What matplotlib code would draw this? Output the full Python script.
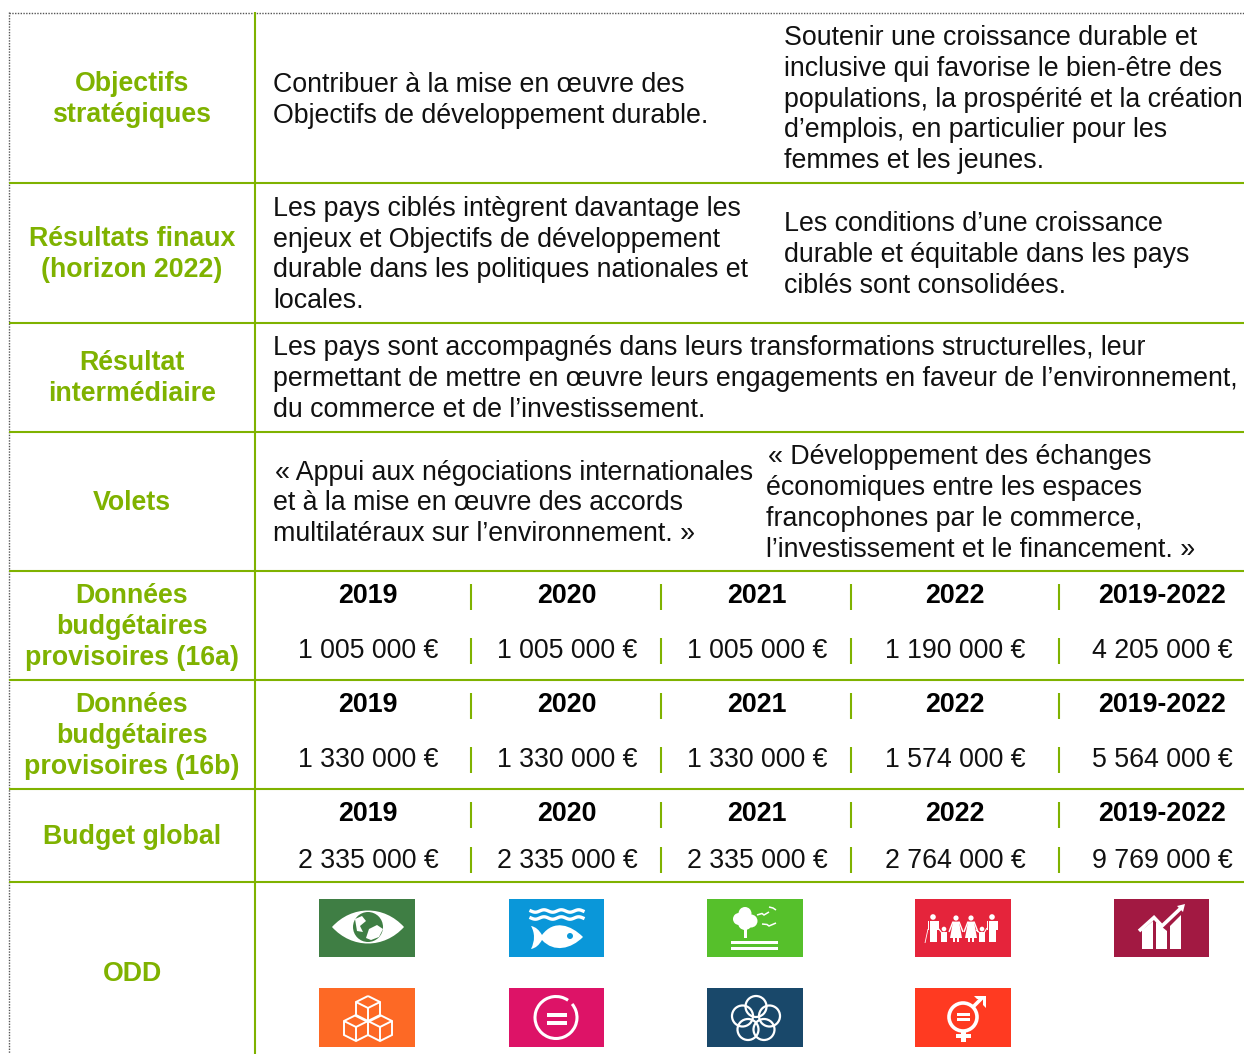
import numpy as np
import matplotlib
matplotlib.use("Agg")
import matplotlib.pyplot as plt
from matplotlib.patches import Rectangle, Circle, Arc, PathPatch, Polygon
from matplotlib.path import Path

plt.rcParams['font.family'] = ['Liberation Sans', 'DejaVu Sans']

GREEN = "#7fb200"
FS = 19.25

row_lines = [183, 323, 432, 571, 680, 789, 882]

# row headers: (lines, baseline of each line)
headers = [
    (["Objectifs", "stratégiques"], [91, 122]),
    (["Résultats finaux", "(horizon 2022)"], [246, 277]),
    (["Résultat", "intermédiaire"], [370, 401]),
    (["Volets"], [510]),
    (["Données", "budgétaires", "provisoires (16a)"], [603, 634, 665]),
    (["Données", "budgétaires", "provisoires (16b)"], [712, 743, 774]),
    (["Budget global"], [844]),
    (["ODD"], [981]),
]

# body text: (x, first baseline, line spacing, lines)
paragraphs = [
    (273, 92, 31, ["Contribuer à la mise en œuvre des",
                   "Objectifs de développement durable."]),
    (784, 45, 30.8, ["Soutenir une croissance durable et",
                     "inclusive qui favorise le bien-être des",
                     "populations, la prospérité et la création",
                     "d’emplois, en particulier pour les",
                     "femmes et les jeunes."]),
    (273, 216, 30.7, ["Les pays ciblés intègrent davantage les",
                      "enjeux et Objectifs de développement",
                      "durable dans les politiques nationales et",
                      "locales."]),
    (784, 231, 31, ["Les conditions d’une croissance",
                    "durable et équitable dans les pays",
                    "ciblés sont consolidées."]),
    (273, 355, 31, ["Les pays sont accompagnés dans leurs transformations structurelles, leur",
                    "permettant de mettre en œuvre leurs engagements en faveur de l’environnement,",
                    "du commerce et de l’investissement."]),
    (275, 480, 30.5, ["« Appui aux négociations internationales"]),
    (273, 510.5, 30.5, ["et à la mise en œuvre des accords",
                        "multilatéraux sur l’environnement. »"]),
    (768, 464, 31, ["« Développement des échanges"]),
    (766, 495, 31, ["économiques entre les espaces",
                    "francophones par le commerce,",
                    "l’investissement et le financement. »"]),
]

years = ["2019", "2020", "2021", "2022", "2019-2022"]
budget_16a = [1005000, 1005000, 1005000, 1190000, 4205000]
budget_16b = [1330000, 1330000, 1330000, 1574000, 5564000]
budget_global = [2335000, 2335000, 2335000, 2764000, 9769000]

col_x = [368, 567, 757, 955, 1162]
sep_x = [471, 661, 851, 1059]

# budget row: values, year baseline, value baseline, year sep top, value sep top
budget_rows = [
    (budget_16a, 603, 658, 584, 638),
    (budget_16b, 712, 767, 693, 747),
    (budget_global, 821, 868, 802, 847),
]

odd_colors = ["#3f7e44", "#0a97d9", "#56c02b", "#e5243b", "#a21942",
              "#fd6925", "#dd1367", "#19486a", "#ff3a21"]
odd_x = [(319, 415), (509, 604), (707, 803), (915, 1011), (1114, 1209),
         (319, 415), (509, 604), (707, 803), (915, 1011)]
odd_y = [(899, 957)] * 5 + [(988, 1047)] * 4


def money(v):
    return f"{v:,}".replace(",", " ") + " €"


fig = plt.figure(figsize=(12.44, 10.54), dpi=100)
ax = fig.add_axes([0, 0, 1, 1])
ax.set_xlim(0, 1244)
ax.set_ylim(1054, 0)
ax.axis("off")

# grid
ax.plot([9, 1244], [12.5, 12.5], color="#555555", lw=1.0, ls=(0, (1, 1)))
ax.plot([8.5, 8.5], [12, 1054], color="#555555", lw=1.0, ls=(0, (1, 1)))
for y in row_lines:
    ax.plot([9, 1244], [y, y], color=GREEN, lw=1.5, solid_capstyle="butt")
ax.plot([255, 255], [12, 1054], color=GREEN, lw=1.5, solid_capstyle="butt")

# texts
for lines, ys in headers:
    for s, y in zip(lines, ys):
        ax.text(132, y, s, color=GREEN, fontsize=FS, fontweight="bold", ha="center", va="baseline")

for x, y0, dy, lines in paragraphs:
    for i, s in enumerate(lines):
        ax.text(x, y0 + i * dy, s, color="#111111", fontsize=FS, ha="left", va="baseline")

for values, y_year, y_val, s1, s2 in budget_rows:
    for x, yr, v in zip(col_x, years, values):
        ax.text(x, y_year, yr, color="black", fontsize=FS, fontweight="bold", ha="center", va="baseline")
        ax.text(x + 0.5, y_val, money(v), color="#111111", fontsize=FS, ha="center", va="baseline")
    for x in sep_x:
        ax.plot([x, x], [s1, s1 + 26], color=GREEN, lw=1.5, solid_capstyle="butt")
        ax.plot([x, x], [s2, s2 + 26], color=GREEN, lw=1.5, solid_capstyle="butt")


# icons, drawn in pixels from the top left corner of each square
def poly(x0, y0, pts, c="white"):
    ax.add_patch(Polygon([(x0 + a, y0 + b) for a, b in pts], closed=True, fc=c, ec="none"))


def box(x0, y0, a, b, w, h, c="white"):
    ax.add_patch(Rectangle((x0 + a, y0 + b), w, h, fc=c, ec="none"))


def disc(x0, y0, a, b, r, c="white"):
    ax.add_patch(Circle((x0 + a, y0 + b), r, fc=c, ec="none"))


def ring(x0, y0, a, b, r, lw=1.6):
    ax.add_patch(Circle((x0 + a, y0 + b), r, fc="none", ec="white", lw=lw))


def curve(x0, y0, verts, codes, c="white"):
    ax.add_patch(PathPatch(Path([(x0 + a, y0 + b) for a, b in verts], codes), fc=c, ec="none"))


def seg(x0, y0, pts, lw=1.2):
    ax.plot([x0 + p[0] for p in pts], [y0 + p[1] for p in pts], color="white", lw=lw,
            solid_joinstyle="miter", solid_capstyle="butt")


C4 = Path.CURVE4
M = Path.MOVETO


def icon_eye(x, y, bg):
    curve(x, y, [(13, 28), (33, 6), (65, 6), (85, 28), (65, 50), (33, 50), (13, 28)],
          [M, C4, C4, C4, C4, C4, C4])
    disc(x, y, 49, 28, 15, bg)
    poly(x, y, [(36, 20), (43, 17), (47, 22), (41, 27), (44, 33), (38, 32)])
    poly(x, y, [(50, 30), (58, 26), (64, 30), (60, 38), (52, 41), (47, 39)])


def icon_fish(x, y, bg):
    for dy in (12, 19):
        t = np.linspace(0, 1, 60)
        ax.plot(x + 22 + 52 * t, y + dy + 1.2 * np.sin(t * 3 * 2 * np.pi), color="white", lw=2.4)
    curve(x, y, [(33, 36), (45, 20), (62, 26), (74, 38), (62, 50), (45, 54), (33, 41),
                 (30, 46), (27, 49), (22, 50), (26, 42), (26, 34), (22, 27), (27, 28), (30, 31), (33, 36)],
          [M, C4, C4, C4, C4, C4, C4, C4, C4, C4, C4, C4, C4, C4, C4, C4])
    disc(x, y, 61, 37, 3, bg)


def icon_land(x, y, bg):
    for a, b, r in [(38, 14.5, 6.5), (32, 20, 6), (44, 22, 6.5), (38, 24, 7)]:
        disc(x, y, a, b, r)
    box(x, y, 36.5, 30, 3.5, 9)
    box(x, y, 24, 42, 47, 3.2)
    box(x, y, 24, 47.5, 47, 3.2)
    seg(x, y, [(50, 16), (55, 14.5), (57, 16), (62, 13)], 1.1)
    seg(x, y, [(62, 8), (66, 9), (69, 11)], 1.1)
    seg(x, y, [(55, 25), (60, 25.5), (62, 27), (69, 24)], 1.1)


def icon_man(x, y, c, hy, r, bot, w):
    disc(x, y, c, hy, r)
    mid = hy + r + 11
    box(x, y, c - w / 2, hy + r + 1, w, mid - hy - r - 1)
    box(x, y, c - w / 2 - 2, hy + r + 1, 1.5, mid - hy - r - 2)
    box(x, y, c + w / 2 + 0.5, hy + r + 1, 1.5, mid - hy - r - 2)
    box(x, y, c - w / 2, mid, w / 2 - 0.4, bot - mid)
    box(x, y, c + 0.4, mid, w / 2 - 0.4, bot - mid)


def icon_woman(x, y, c, hy, r, bot):
    disc(x, y, c, hy, r)
    poly(x, y, [(c - 3, hy + r + 1), (c + 3, hy + r + 1), (c + 6, hy + 20), (c - 6, hy + 20)])
    box(x, y, c - 3, hy + 20, 2.4, bot - hy - 20)
    box(x, y, c + 0.6, hy + 20, 2.4, bot - hy - 20)
    seg(x, y, [(c - 3, hy + r + 1), (c - 7, hy + 14)], 1.0)
    seg(x, y, [(c + 3, hy + r + 1), (c + 7, hy + 14)], 1.0)


def icon_family(x, y, bg):
    icon_man(x, y, 18, 18, 2.8, 43, 7)
    icon_man(x, y, 77, 18, 2.8, 43, 7)
    icon_woman(x, y, 41, 19, 2.6, 43)
    icon_woman(x, y, 56, 19, 2.6, 43)
    for c in (29, 67):
        disc(x, y, c, 30, 2.3)
        box(x, y, c - 3, 33, 6, 6)
        box(x, y, c - 2.6, 39, 2.2, 4)
        box(x, y, c + 0.4, 39, 2.2, 4)
    seg(x, y, [(23, 29), (27, 34)], 0.8)
    seg(x, y, [(61, 31), (65, 34)], 0.8)
    seg(x, y, [(72, 29), (69, 34)], 0.8)
    seg(x, y, [(13, 30), (10, 44)], 0.6)


def icon_growth(x, y, bg):
    poly(x, y, [(28, 31), (39, 22), (39, 50), (28, 50)])
    poly(x, y, [(42, 23), (53, 32), (53, 50), (42, 50)])
    poly(x, y, [(56, 27), (67, 16), (67, 50), (56, 50)])
    seg(x, y, [(25, 32), (40, 18.5), (48, 27), (67, 9)], 2.6)
    poly(x, y, [(63, 7), (71, 5), (69, 13)])


def icon_cubes(x, y, bg):
    lw = 1.4
    cubes = [(49, 17), (37, 36), (61, 36)]
    for a, b in cubes:
        hexa = [(a, b - 9), (a + 12, b - 3), (a + 12, b + 11), (a, b + 17), (a - 12, b + 11), (a - 12, b - 3), (a, b - 9)]
        seg(x, y, hexa, lw)
        seg(x, y, [(a - 12, b - 3), (a, b + 3), (a + 12, b - 3)], lw)
        seg(x, y, [(a, b + 3), (a, b + 17)], lw)


def icon_equal(x, y, bg):
    cx, cy = x + 47, y + 29.5
    ax.add_patch(Arc((cx, cy), 42, 42, theta1=-40, theta2=305, color="white", lw=2.2))
    box(x, y, 38, 25, 20, 4)
    box(x, y, 38, 33, 20, 4)


def icon_rings(x, y, bg):
    for a, b in [(49, 18.5), (35.5, 28), (62.5, 28), (41, 41.5), (57, 41.5)]:
        ring(x, y, a, b, 10.5)


def icon_gender(x, y, bg):
    ring(x, y, 48, 29, 14, lw=2.6)
    box(x, y, 42, 25, 13, 3)
    box(x, y, 42, 30, 13, 3)
    seg(x, y, [(57, 20), (67, 10)], 2.6)
    poly(x, y, [(59, 8), (71, 8), (71, 20), (68, 17), (68, 11), (62, 11)])
    box(x, y, 46, 43, 4.5, 11)
    box(x, y, 41, 46, 15, 4)


icons = [icon_eye, icon_fish, icon_land, icon_family, icon_growth,
         icon_cubes, icon_equal, icon_rings, icon_gender]

for color, (x0, x1), (y0, y1), draw in zip(odd_colors, odd_x, odd_y, icons):
    ax.add_patch(Rectangle((x0, y0), x1 - x0, y1 - y0, fc=color, ec="none"))
    draw(x0, y0, color)

fig.savefig("out.png", dpi=100)
